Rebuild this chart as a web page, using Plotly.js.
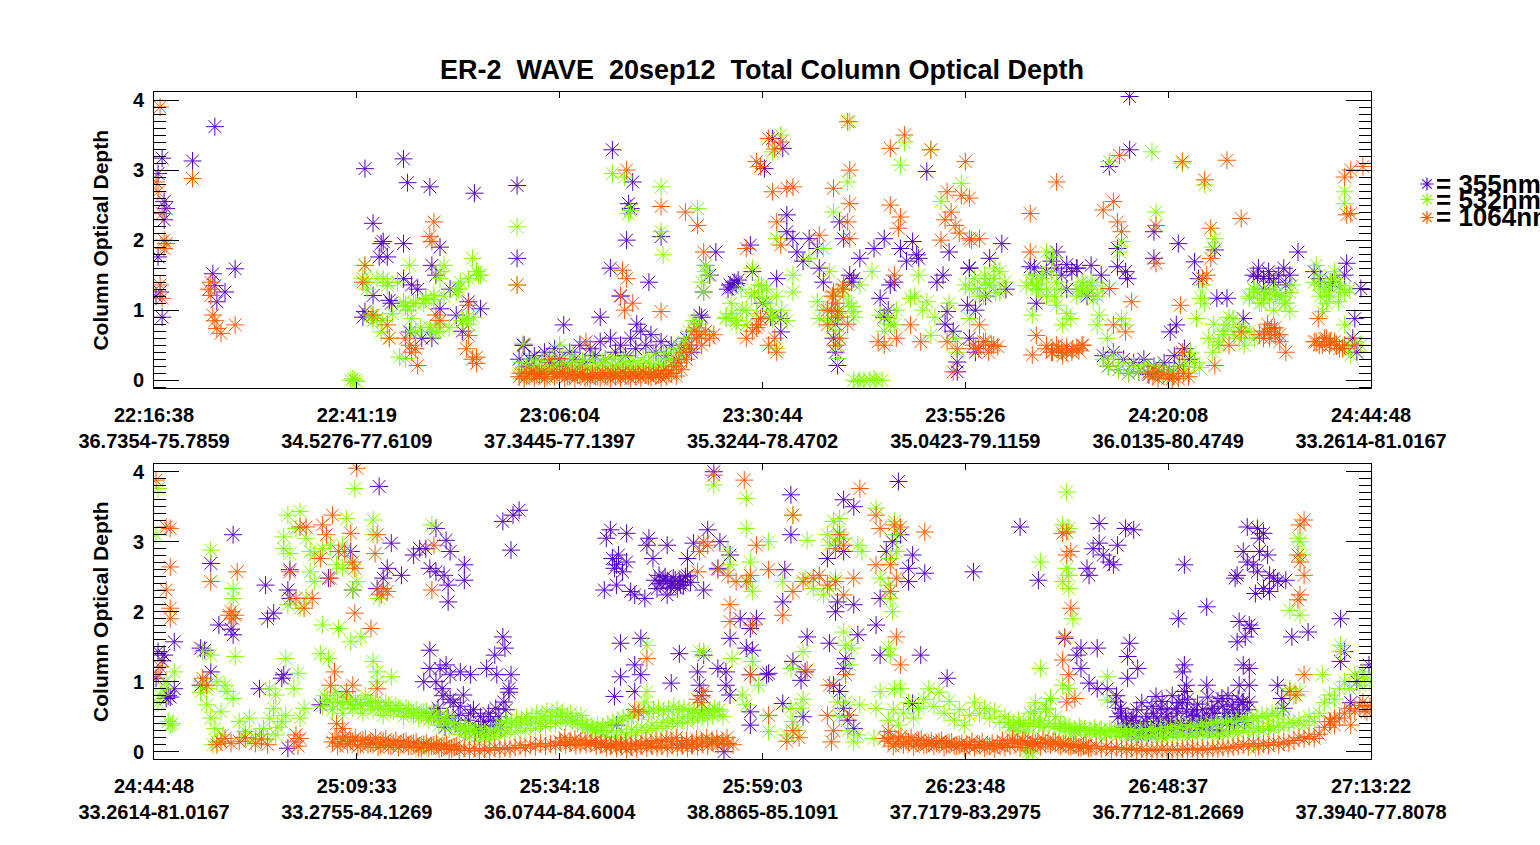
<!DOCTYPE html>
<html>
<head>
<meta charset="utf-8">
<script src="https://cdn.plot.ly/plotly-3.0.1.min.js"></script>
<style>
  html, body { margin: 0; padding: 0; background: #fff; }
  #chart { width: 1540px; height: 845px; }
</style>
</head>
<body>
<div id="chart"></div>
<script>
// Axis labels (time on line 1, lat-lon on line 2)
const TOP_TICKS = ['22:16:38<br>36.7354-75.7859', '22:41:19<br>34.5276-77.6109', '23:06:04<br>37.3445-77.1397',
    '23:30:44<br>35.3244-78.4702', '23:55:26<br>35.0423-79.1159', '24:20:08<br>36.0135-80.4749', '24:44:48<br>33.2614-81.0167'];
const BOT_TICKS = ['24:44:48<br>33.2614-81.0167', '25:09:33<br>33.2755-84.1269', '25:34:18<br>36.0744-84.6004',
    '25:59:03<br>38.8865-85.1091', '26:23:48<br>37.7179-83.2975', '26:48:37<br>36.7712-81.2669', '27:13:22<br>37.3940-77.8078'];
const WAVELENGTHS = ['355nm', '532nm', '1064nm'];

// sampling step (in tick intervals) of the dense runs below
const BAND_DX = 0.025;

// ---------- top panel ----------
const top355 = [[0.02,2.95],[0.04,3.17],[0.05,2.55],[0.05,2.29],[0.02,1.76],[0.03,1.26],[0.04,0.9],[0.01,1.2],[0.06,2.45],
    [0.19,3.13],[0.30,3.62],[0.29,1.52],[0.31,1.12],[0.35,1.26],[0.40,1.59],[0.30,1.35],
    [1.04,3.02],[1.08,2.24],[1.13,1.98],[1.11,1.76],[1.15,1.76],[1.12,1.95],[1.23,1.95],[1.23,3.16],[1.25,2.82],[1.36,2.76],[1.41,1.9],[1.37,1.64],[1.58,2.67],[1.79,2.78],[1.79,1.74],
    [1.04,0.98],[1.03,0.9],[1.08,1.21],[1.16,1.14],[1.17,1.1],[1.23,1.45],[1.27,1.36],[1.32,0.6],[1.37,0.6],[1.41,1.02],[1.49,0.93],[1.55,1.12],[1.61,1.02],[1.26,0.69],[1.3,1.3],[1.39,1.5],[1.46,1.3],[1.52,0.7],
    [1.82,0.5],[1.85,0.3],[2.02,0.79],
    [2.26,3.29],[2.33,2.0],[2.34,2.52],[2.36,2.83],[2.25,1.6],[2.44,1.4],[2.5,2.05],[2.35,2.45],[2.3,1.2],[2.38,0.8],[2.2,0.9],
    [2.69,0.93],[2.71,1.26],[2.72,1.64],[2.77,1.83],[2.74,1.5],
    [2.84,1.36],[2.86,1.4],[2.85,1.33],[2.87,1.38],[2.83,1.3],[2.88,1.43],
    [2.94,1.93],[2.95,1.55],[3.01,3.02],[3.05,3.45],[3.1,3.31],[3.07,1.45],[3.09,0.88],[3.09,0.69],[3.0,1.1],[3.04,0.9],
    [3.12,2.36],[3.12,2.12],[3.15,2.02],[3.17,1.83],[3.23,2.02],[3.27,1.88],[3.28,1.6],[3.30,1.4],[3.2,1.7],
    [3.38,2.26],[3.40,2.02],[3.43,1.5],[3.45,1.45],[3.48,1.74],[3.44,1.4],[3.35,0.6],[3.36,0.4],[3.37,0.21],[3.36,0.8],
    [3.55,1.88],[3.58,1.17],[3.6,2.02],[3.63,1.36],[3.65,1.4],[3.68,1.88],[3.74,1.98],[3.76,1.79],[3.77,1.74],[3.81,2.98],[3.71,1.7],[3.62,1.0],[3.6,0.9],
    [3.86,1.4],[3.89,1.5],[3.91,0.98],[3.92,1.83],[3.96,0.12],[3.96,0.26],[4.02,1.6],[4.01,1.07],[3.94,0.7],[3.9,0.8],
    [4.81,4.05],[4.81,3.29],[4.71,3.05],[4.02,1.6],[4.12,1.74],[4.18,1.95],[4.32,1.62],[4.34,1.6],[4.45,1.83],[4.55,1.6],[4.62,1.64],[4.67,1.5],[4.75,1.88],[4.75,1.62],[4.79,1.55],[4.8,1.45],
    [4.93,2.12],[4.93,1.74],[5.05,1.95],[5.23,1.86],[5.13,1.69],[5.64,1.83],[5.88,1.67],[5.95,1.31],[5.87,1.5],
    [5.44,1.48],[5.5,1.45],[5.6,1.5],[5.58,1.36],[5.47,1.3],
    [5.04,0.79],[5.01,0.69],[5.15,1.45],[5.24,1.17],[5.29,1.17],[5.37,0.88],
    [5.72,1.55],[5.75,1.45],[5.81,1.4],[5.92,0.88],[5.91,0.6],[5.93,0.4],
    [4.05,1.0],[4.1,1.2],[4.2,1.3],[4.35,1.1],[4.5,1.3],[4.6,1.2],[4.02,0.6],[4.05,0.4]];
const top355Runs = [
    [1.80, [0.3,0.5,0.2,0.35,0.15,0.4,0.25,0.45,0.3,0.2,0.4,0.3,0.5,0.25,0.45,0.35,0.55,0.3,0.6,0.4,0.5,0.35,0.6,0.45,0.7,0.5,0.65,0.4,0.55,0.35,0.5,0.3,0.45,0.6,0.4,0.75,0.9]],
    [4.68, [0.35,0.2,0.4,0.15,0.3,0.1,0.25,0.12,0.3,0.08,0.2,0.1,0.25,0.15,0.35,0.2,0.45,0.3]],
    [4.40, [1.55,1.7,1.6,1.5,1.65,1.55,1.6]],
    [5.42, [1.5,1.6,1.45,1.55,1.4,1.5,1.6]]];

const top532 = [[0.99,0.0],[0.98,0.02],[1.0,-0.02],[0.97,0.0],
    [1.04,1.64],[1.03,1.45],[1.07,0.93],[1.1,0.88],[1.13,1.45],[1.15,1.40],[1.12,0.69],[1.16,0.6],[1.08,0.85],[1.05,1.3],
    [1.21,0.33],[1.24,0.31],[1.26,1.64],[1.23,1.12],[1.24,1.07],[1.27,0.88],[1.29,0.69],[1.25,1.0],[1.28,1.1],
    [1.34,1.17],[1.38,1.21],[1.39,0.69],[1.41,1.55],[1.41,1.45],[1.43,1.64],[1.36,0.75],[1.4,0.8],[1.33,1.1],
    [1.49,1.26],[1.51,1.4],[1.54,0.88],[1.57,1.74],[1.59,1.55],[1.61,1.5],[1.52,0.85],[1.55,0.8],[1.5,1.3],
    [1.79,2.19],[1.79,1.36],[1.82,0.52],
    [2.26,2.95],[2.32,2.9],[2.5,2.76],[2.5,2.12],[2.51,1.79],[2.68,2.45],[2.34,2.38],[2.35,2.42],
    [2.72,1.55],[2.72,1.64],[2.71,1.26],[2.7,1.4],[2.73,1.5],
    [2.82,0.88],[2.87,0.79],[2.92,0.79],[2.95,1.6],[2.98,1.36],[3.0,1.17],[3.05,0.88],[3.07,0.45],[3.09,3.5],[3.05,3.26],[2.85,0.95],[2.9,1.0],[2.96,1.25],[3.02,1.3],[3.04,1.0],
    [3.07,2.02],[3.15,1.5],[3.15,1.26],[3.23,1.74],[3.27,1.12],[3.28,0.88],[3.3,1.88],[3.35,2.4],[3.42,2.83],[3.43,3.69],
    [3.33,1.55],[3.37,0.5],[3.37,0.31],[3.38,0.98],[3.45,0.98],[3.48,1.36],[3.36,0.7],[3.44,1.05],[3.4,1.2],
    [3.45,0.0],[3.48,0.0],[3.5,0.0],[3.53,0.0],[3.56,0.0],[3.59,0.0],[3.47,-0.02],[3.55,0.02],
    [3.54,1.55],[3.58,0.93],[3.62,0.88],[3.65,0.79],[3.68,3.07],[3.7,3.4],[3.73,1.17],[3.77,1.5],[3.81,1.12],[3.83,0.64],[3.83,3.29],[3.88,2.55],[3.96,0.4],[3.98,2.81],[4.0,1.36],[4.02,0.88],
    [3.6,0.7],[3.63,0.8],[3.66,1.0],[3.75,1.2],[3.79,1.0],[3.85,0.9],[3.92,1.1],[3.95,0.6],
    [4.92,3.26],[4.71,3.12],[5.07,3.1],[5.18,2.79],[5.23,2.02],[5.87,2.69],[5.87,2.52],[4.94,2.4],[4.77,1.98],[4.76,1.83],[5.22,1.9],
    [4.06,1.31],[4.12,1.36],[4.14,1.45],[4.17,1.55],[4.09,1.2],[4.1,1.4],[4.15,1.25],
    [4.35,1.36],[4.33,1.4],[4.38,1.5],[4.4,1.83],[4.43,1.76],[4.45,1.07],[4.33,0.93],[4.48,0.79],[4.52,0.88],[4.36,1.3],[4.4,1.3],[4.44,1.2],[4.5,0.95],
    [4.58,1.36],[4.57,1.26],[4.62,1.4],[4.65,0.79],[4.66,0.93],[4.6,1.3],[4.55,1.2],[4.63,1.15],
    [4.77,0.88],[4.79,0.79],[4.7,0.6],
    [5.14,0.88],[5.16,1.17],[5.17,1.36],[5.18,1.1],[5.11,0.4],
    [5.22,0.4],[5.25,0.5],[5.29,0.79],[5.32,0.88],[5.35,0.6],[5.38,0.69],[5.4,1.17],[5.44,1.26],[5.47,1.17],[5.5,1.26],[5.53,1.22],[5.6,0.98],[5.61,1.36],[5.42,1.3],[5.46,1.1],[5.52,1.0],[5.56,1.2],[5.58,1.1],[5.27,0.65],
    [5.73,1.64],[5.74,1.36],[5.76,0.98],[5.79,1.26],[5.82,1.55],[5.84,1.12],[5.87,0.79],[5.89,0.5],[5.9,0.36],[5.92,0.55],[5.75,1.2],[5.8,1.4],[5.85,1.3],[5.78,1.1],[5.95,0.5]];
const top532Runs = [
    [1.80, [0.1,0.05,0.15,0.08,0.12,0.05,0.2,0.1,0.5,0.15,0.25,0.12,0.2,0.1,0.18,0.08,0.15,0.3,0.12,0.2,0.1,0.25,0.15,0.12,0.2,0.1,0.18,0.12,0.22,0.15,0.3,0.2,0.35,0.5,0.6,0.75,0.65]],
    [1.8125, [0.25,0.18,0.3,0.2,0.28,0.15,0.32,0.22,0.3,0.18,0.35,0.2,0.28,0.16,0.3,0.2,0.26,0.14,0.3,0.22,0.34,0.18,0.28,0.2,0.32,0.24,0.36,0.2,0.4,0.3,0.45,0.4,0.55,0.7,0.85,0.8]],
    [4.68, [0.3,0.2,0.35,0.15,0.25,0.1,0.2,0.12,0.22,0.15,0.1,0.2,0.08,0.15,0.05,0.12,0.2,0.1,0.25,0.18]],
    [1.05, [1.4,0.9,1.45,0.85,1.35,0.95,1.4]],
    [1.24, [1.05,0.7,1.1,0.75,1.15,0.7]],
    [1.38, [1.15,0.7,1.2,0.75]],
    [1.50, [1.3,0.85,1.45,0.9,1.5]],
    [2.82, [0.9,1.1,0.85,1.3,1.0,1.2,0.95,1.35,1.1,0.9,1.2,1.0,0.85]],
    [3.30, [1.0,0.85,1.2,0.95,1.3,1.1,0.9]],
    [4.02, [1.3,1.45,1.2,1.5,1.35,1.6,1.25,1.4]],
    [4.30, [1.35,1.5,1.3,1.45,1.2,1.55,1.4,1.3]],
    [4.55, [1.3,1.4,1.25,1.35,1.2,1.3]],
    [5.20, [0.6,0.8,0.55,0.7,0.9,0.65,0.75,0.5,0.7,0.6]],
    [5.40, [1.2,1.3,1.1,1.25,1.15,1.3,1.2,1.1,1.25]],
    [5.72, [1.4,1.5,1.3,1.2,1.45,1.35,1.25,1.3]]];

const top1064 = [[0.03,3.9],[0.01,2.83],[0.02,2.69],[0.04,2.38],[0.05,2.0],[0.05,1.88],[0.03,1.36],[0.04,1.17],[0.06,1.95],
    [0.19,2.88],[0.28,1.4],[0.28,1.21],[0.29,0.93],[0.31,0.74],[0.33,0.67],[0.40,0.79],[0.27,1.3],[0.3,0.85],
    [1.04,1.64],[1.03,1.4],[1.08,0.93],[1.15,0.79],[1.16,0.6],[1.26,0.5],[1.27,0.4],[1.3,0.21],[1.24,0.6],[1.29,0.45],
    [1.36,2.05],[1.38,2.26],[1.37,1.98],[1.39,0.93],[1.41,0.85],[1.55,1.07],[1.55,0.64],[1.54,0.45],[1.59,0.33],[1.59,0.24],[1.57,0.3],
    [1.79,1.36],[2.0,0.31],
    [2.13,0.55],[2.33,3.0],[2.33,1.45],[2.31,1.57],[2.3,1.21],[2.5,2.48],[2.62,2.4],[2.68,2.21],[2.5,0.98],[2.32,1.0],[2.36,1.1],
    [2.71,1.83],[2.74,0.6],[2.76,0.65],[2.72,0.7],
    [2.92,1.88],[2.92,0.6],[2.98,0.79],[2.99,0.88],[2.95,0.7],[2.97,0.75],
    [2.97,3.12],[2.99,3.05],[3.03,3.45],[3.09,3.4],[3.06,3.3],
    [3.05,2.69],[3.12,2.74],[3.15,2.76],[3.07,2.26],[3.09,1.93],[3.03,0.5],[3.07,0.4],[3.06,0.6],
    [3.28,2.07],[3.35,2.74],[3.42,3.69],[3.43,3.0],[3.43,2.52],[3.42,2.26],[3.43,2.02],[3.35,1.26],[3.37,0.98],[3.32,0.79],[3.4,1.36],[3.36,1.1],[3.34,1.0],[3.38,0.6],[3.36,0.5],
    [3.63,3.31],[3.63,2.5],[3.7,3.5],[3.68,2.33],[3.67,2.17],[3.65,1.5],[3.57,0.55],[3.66,0.6],[3.73,0.79],[3.78,0.55],[3.6,0.5],
    [3.83,3.29],[3.91,2.69],[3.9,2.29],[3.98,2.64],[4.0,3.12],[3.95,2.21],[3.88,2.0],[4.02,2.02],[3.91,0.55],[3.94,0.12],[3.96,0.45],[3.97,2.1],[3.93,2.4],
    [4.02,2.6],[4.45,2.83],[4.32,2.38],[4.76,3.21],[4.73,2.55],[4.68,2.43],[4.75,2.26],[4.77,2.12],[4.94,2.21],[4.94,1.67],[5.07,3.12],[5.29,3.14],[5.18,2.86],[5.21,2.17],[5.21,1.74],[5.36,2.31],[5.87,2.9],[5.9,3.0],[5.96,3.05],[5.88,2.36],[5.9,2.38],
    [4.07,2.02],[4.03,2.0],
    [4.07,0.79],[4.05,0.45],[4.13,0.5],[4.16,0.48],[4.1,0.55],[4.32,1.83],[4.35,0.64],[4.33,0.36],[4.43,0.4],[4.46,0.45],[4.5,0.4],[4.53,0.45],[4.56,0.42],[4.58,0.5],[4.48,0.35],[4.4,0.5],
    [4.71,1.31],[4.73,0.79],[4.79,0.69],[4.82,1.12],[4.94,0.12],[5.02,0.02],[5.06,1.07],[5.07,0.4],[5.17,1.45],[5.19,1.5],[5.23,0.21],[5.3,0.5],[5.36,0.69],
    [5.47,0.6],[5.5,0.69],[5.51,0.74],[5.53,0.65],[5.55,0.55],[5.58,0.4],[5.49,0.8],
    [5.73,0.55],[5.76,0.5],[5.8,0.55],[5.74,0.88],[5.78,0.6],[5.83,0.5],[5.86,0.45],[5.92,0.5]];
const top1064Runs = [
    [1.80, [0.05,0.02,0.1,0.03,0.08,0.02,0.3,0.05,0.1,0.03,0.06,0.02,0.08,0.04,0.02,0.06,0.03,0.08,0.02,0.05,0.03,0.07,0.02,0.05,0.03,0.08,0.04,0.06,0.03,0.05,0.1,0.06,0.15,0.3,0.45,0.6,0.5]],
    [1.8125, [0.1,0.06,0.12,0.08,0.1,0.05,0.12,0.08,0.1,0.06,0.12,0.07,0.1,0.05,0.09,0.06,0.11,0.05,0.1,0.07,0.12,0.06,0.1,0.08,0.12,0.06,0.1,0.08,0.14,0.1,0.2,0.25,0.4,0.5,0.7,0.65]],
    [4.90, [0.1,0.05,0.02,0.08,0.03,0.06,0.02,0.1,0.05]],
    [3.32, [1.0,1.2,0.9,1.3,0.8]],
    [4.04, [0.5,0.45,0.55,0.4,0.5]],
    [4.40, [0.45,0.4,0.5,0.42,0.48,0.4,0.45,0.5]],
    [5.45, [0.65,0.7,0.6,0.75,0.65]],
    [5.72, [0.55,0.5,0.6,0.5,0.55,0.45,0.5]]];

// ---------- bottom panel ----------
const bot355 = [[0.02,1.43],[0.05,1.38],[0.06,0.76],[0.08,0.78],[0.1,0.9],[0.1,1.57],[0.01,1.05],[0.07,0.8],[0.04,1.3],
    [0.23,1.48],[0.25,1.45],[0.28,1.14],[0.23,0.95],
    [0.28,2.69],[0.32,1.81],[0.39,3.1],[0.39,1.67],[0.38,1.75],
    [0.55,2.38],[0.56,1.9],[0.59,1.98],[0.66,2.31],[0.67,2.19],[0.67,2.6],[0.64,1.1],[0.63,1.05],[0.52,0.9],[0.66,0.05],
    [0.82,0.67],[0.86,2.48],[0.97,2.86],[0.98,2.31],
    [1.11,3.79],[1.17,2.98],[1.13,2.48],[1.1,2.33],[1.15,2.62],[1.22,2.52],
    [1.28,2.81],[1.31,2.9],[1.34,2.9],[1.39,3.19],[1.36,2.62],[1.39,2.57],[1.44,3.02],[1.43,2.52],[1.46,2.86],[1.45,2.38],[1.45,2.14],[1.53,2.67],[1.53,2.45],
    [1.72,3.29],[1.77,3.38],[1.8,3.45],[1.76,2.88],
    [1.36,1.45],[1.36,1.19],[1.41,1.19],[1.44,1.24],[1.39,1.0],[1.42,0.9],[1.46,1.1],[1.51,1.14],[1.56,1.1],[1.64,1.19],[1.68,1.38],[1.72,1.64],[1.73,1.48],[1.69,1.1],[1.76,1.1],[1.33,1.0],[1.38,0.55],[1.75,0.85],
    [2.25,3.17],[2.23,3.05],[2.33,3.12],[2.44,3.05],[2.43,2.95],[2.53,2.95],[2.46,2.76],
    [2.26,2.76],[2.29,2.81],[2.28,2.67],[2.31,2.57],[2.33,2.71],[2.27,2.62],
    [2.22,2.31],[2.28,2.38],[2.35,2.29],[2.37,2.24],[2.42,2.19],
    [2.49,2.52],[2.53,2.43],[2.56,2.48],[2.59,2.43],[2.63,2.52],[2.58,2.33],[2.53,2.24],[2.48,2.33],[2.55,2.4],[2.61,2.38],[2.51,2.45],[2.63,2.76],[2.66,2.98],[2.71,2.31],[2.73,3.17],[2.78,2.62],[2.79,3.0],[2.76,4.0],[2.84,2.81],
    [2.89,1.9],[2.97,1.9],[2.94,1.76],[2.84,1.62],[2.92,1.48],[2.95,1.45],[2.94,1.1],[3.03,1.12],[3.02,1.1],
    [3.14,3.67],[3.14,3.1],[3.11,2.6],[3.1,2.14],
    [2.3,1.55],[2.4,1.62],[2.3,1.07],[2.37,1.24],[2.4,1.1],[2.27,0.79],[2.37,0.86],[2.59,1.4],[2.55,0.98],[2.68,1.14],[2.71,1.38],[2.78,1.19],[2.82,1.14],[2.82,0.95],[2.84,0.81],[2.69,0.95],[2.28,0.38],[2.94,0.38],[2.94,0.57],[2.81,0.0],[2.7,0.8],
    [3.22,1.64],[3.33,1.55],[3.15,1.29],[3.19,1.02],[3.21,1.14],
    [3.4,3.6],[3.45,3.5],[3.4,2.86],[3.32,2.76],[3.36,2.0],[3.37,2.14],[3.45,2.1],[3.47,1.67],[3.41,1.33],[3.4,1.19],[3.35,0.95],[3.38,0.86],
    [3.67,3.86],[3.56,1.81],[3.58,1.38],[3.78,1.38],[3.64,3.0],[3.61,2.86],[3.68,3.1],[3.74,2.81],[3.72,2.62],[3.72,2.43],[3.8,2.55],[4.04,2.57],[3.58,2.19],
    [3.74,0.69],[3.91,1.05],[3.1,0.69],[3.4,0.62],[3.45,0.33],[3.2,0.5],[3.42,0.45],
    [4.27,3.21],[4.66,3.26],[4.79,3.19],[4.83,3.17],
    [4.36,2.45],[4.61,2.52],[4.6,2.62],[4.63,2.9],[4.66,2.98],[4.68,2.81],[4.71,2.71],[4.73,2.67],[4.75,2.95],
    [5.08,2.67],[5.19,2.07],[5.05,1.9],
    [4.49,1.62],[4.57,1.48],[4.65,1.48],[4.55,1.38],[4.57,1.19],[4.81,1.55],[4.8,1.36],[4.85,1.19],[4.8,1.05],[4.61,0.98],[4.65,0.9],[4.7,0.9],
    [5.08,1.24],[5.07,1.14],[5.09,0.95],[5.08,0.86],[5.19,0.95],[4.94,0.79],
    [5.34,2.52],[5.37,2.86],[5.39,3.21],[5.44,3.19],[5.45,3.05],[5.47,3.12],[5.39,2.71],[5.42,2.67],[5.45,2.86],[5.49,2.81],[5.44,2.57],[5.5,2.52],[5.54,2.43],[5.58,2.45],[5.52,2.48],[5.43,2.26],[5.47,2.33],[5.5,2.29],[5.33,2.48],
    [5.35,1.86],[5.4,1.81],[5.41,1.76],[5.38,1.64],[5.34,1.57],[5.37,1.24],[5.4,1.19],[5.35,0.95],[5.4,0.95],[5.4,0.71],[5.54,0.95],[5.56,0.76],[5.57,0.62],
    [5.61,1.64],[5.69,1.71],[5.85,1.9],[5.85,1.29],[5.87,1.43],[5.99,1.24],[5.93,1.0],[5.9,0.7]];
const bot355Runs = [
    [1.40, [0.62,0.8,0.48,0.7,0.52,0.81,0.45,0.6,0.33,0.43,0.55,0.38,0.5,0.71,0.9]],
    [1.41, [0.5,0.35,0.75,0.4,0.65,0.3,0.55,0.28,0.5,0.3,0.45,0.62,0.35,0.6]],
    [2.47, [2.45,2.4,2.5,2.35,2.45,2.38,2.5,2.42]],
    [4.74, [0.71,0.62,0.48,0.33,0.4,0.29,0.43,0.3,0.38,0.62,0.5,0.45,0.62,0.4,0.57,0.45,0.52,0.35,0.48,0.62,0.4,0.76,0.55,0.67,0.5,0.71,0.6]],
    [4.7525, [0.5,0.35,0.28,0.5,0.25,0.35,0.27,0.55,0.33,0.3,0.42,0.32,0.7,0.36,0.3,0.6,0.38,0.45,0.32,0.55,0.3,0.5,0.38,0.45,0.55,0.42]],
    [4.745, [0.8,0.55,0.4,0.45,0.6,0.7,0.5,0.65,0.48,0.72,0.6,0.8,0.55,0.7,0.75,0.5,0.68,0.6,0.78,0.55,0.72,0.65,0.8,0.6,0.75,0.7]]];

const bot532 = [[0.02,3.76],[0.01,3.1],[0.08,0.38],[0.07,0.43],[0.09,0.4],[0.03,0.81],[0.05,0.9],[0.1,1.14],[0.06,1.0],[0.02,0.7],
    [0.28,2.88],[0.28,1.38],[0.24,1.43],[0.24,1.0],[0.26,0.9],[0.23,0.85],[0.31,1.0],[0.26,0.67],
    [0.28,0.48],[0.3,0.33],[0.31,0.14],[0.34,0.24],[0.33,0.57],[0.29,0.1],
    [0.35,0.95],[0.36,0.86],[0.39,0.76],[0.39,2.33],[0.39,2.19],[0.4,1.36],
    [0.42,0.43],[0.45,0.29],[0.47,0.48],[0.5,0.19],[0.54,0.33],[0.57,0.48],[0.59,0.62],[0.6,0.24],[0.63,0.43],[0.65,0.52],[0.44,0.2],[0.48,0.15],[0.52,0.25],[0.56,0.18],[0.61,0.35],
    [0.57,0.9],[0.6,0.81],[0.65,1.33],[0.71,1.12],[0.69,0.9],[0.72,0.48],[0.74,0.62],[0.66,3.38],[0.72,3.43],[0.64,3.07],[0.67,2.83],[0.66,2.1],[0.64,2.9],
    [0.7,3.19],[0.75,3.05],[0.77,2.86],[0.77,2.57],[0.79,2.43],[0.79,2.81],[0.83,2.9],[0.87,2.95],[0.93,2.95],[0.95,3.33],[0.9,2.67],[0.93,2.62],[0.98,2.67],[1.0,2.43],[0.99,3.76],[1.08,3.31],[1.08,3.1],[0.98,2.31],[1.11,2.19],[0.75,2.2],[0.72,2.05],
    [0.83,1.81],[0.91,1.76],[0.97,1.57],[1.02,1.64],[0.82,1.4],[0.86,1.33],[1.08,1.29],[1.1,1.14],[1.1,1.0],[1.17,1.07],[1.37,3.24],[1.33,0.1],[1.4,0.1],[1.32,0.02],
    [2.76,3.81],[2.92,3.62],[2.92,3.19],[3.03,3.0],[3.22,3.02],[3.15,3.38],[3.35,3.29],[3.38,3.33],[3.37,3.14],[3.32,3.1],[3.33,2.95],[3.36,3.0],[3.4,3.05],
    [2.83,2.86],[2.84,2.67],[2.94,2.71],[2.95,2.29],[2.93,2.43],[3.1,2.43],[3.21,2.48],[3.25,2.33],[3.3,2.24],[3.33,2.33],[3.36,2.48],[3.47,2.95],[3.49,2.86],
    [3.56,3.48],[3.65,3.29],[3.66,3.1],[3.63,2.76],[3.66,2.86],[3.58,2.48],[3.62,2.38],[3.63,2.19],[3.64,2.0],
    [2.43,1.52],[2.71,1.43],[2.69,1.43],[2.85,1.33],[2.95,1.29],[2.98,0.95],[2.9,0.81],[2.92,0.67],[2.43,0.86],[2.42,0.71],
    [3.2,1.43],[3.14,1.19],[3.4,1.71],[3.41,1.52],[3.44,1.48],[3.43,1.24],[3.37,0.71],[3.41,0.71],[3.48,0.67],[3.56,0.62],[3.58,0.86],[3.65,0.9],[3.68,0.9],[3.63,1.38],[3.62,1.48],
    [3.14,0.62],[3.15,0.43],[3.19,0.62],[3.12,0.24],[3.45,0.14],[3.47,0.24],[3.03,0.29],[3.55,0.19],[3.38,0.5],[3.42,0.3],[3.17,0.3],[3.2,0.75],
    [4.5,3.71],[4.48,3.24],[4.51,3.19],[4.37,2.71],[4.5,2.62],[4.51,2.52],[4.48,2.43],[4.51,2.33],[4.53,1.9],[5.6,2.02],[5.65,1.95],[5.66,2.81],[5.65,3.0],[5.64,3.05],
    [4.37,1.19],[4.7,1.07],[4.7,0.74],[4.48,0.95],[4.51,0.9],[4.34,0.57],[4.4,0.62],
    [5.85,1.52],[5.85,1.43],[5.76,1.1],[5.96,1.14],[5.65,0.86],[5.6,0.9],[5.62,0.8],
    [4.31,0.0],[4.3,0.02],[4.33,-0.02],[5.43,0.05]];
const bot532Runs = [
    [0.83, [0.65,0.75,0.6,0.7,0.55,0.72,0.62,0.68,0.55,0.7,0.6,0.65,0.52,0.66,0.58,0.62,0.5,0.6,0.55,
            0.48,0.56,0.45,0.5,0.38,0.46,0.32,0.4,
            0.25,0.33,0.2,0.28,0.15,0.25,0.18,0.22,0.3,
            0.25,0.35,0.28,0.38,0.3,0.4,0.33,0.42,0.36,0.45,0.4,
            0.5,0.42,0.55,0.45,0.52,0.4,0.35,0.3,0.28,
            0.22,0.3,0.2,0.28,0.24,0.32,0.27,0.35,0.3,
            0.38,0.33,0.42,0.36,0.45,0.4,0.48,0.42,0.5,0.45,0.55,0.48,0.52,0.58,0.5]],
    [0.8425, [0.8,0.72,0.85,0.7,0.78,0.68,0.75,0.66,0.8,0.7,0.72,0.62,0.7,0.6,0.66,0.58,0.62,0.55,0.6,0.52,0.58,0.5,0.55,0.45,0.5,0.42]],
    [1.5125, [0.35,0.3,0.38,0.28,0.33,0.25,0.3,0.35,0.4,0.45,0.42,0.48,0.45,0.5,0.48,0.55,0.5,0.58,0.52,0.6,0.55,0.5,0.45,0.4,0.38,0.35,
              0.32,0.38,0.35,0.4,0.42,0.45,0.48,0.5,0.52,0.55,0.58,0.55,0.6,0.62,0.58,0.6,0.65,0.6,0.62,0.58,0.6,0.55,0.6,0.58,0.62,0.6]],
    [3.62, [0.45,0.6,0.38,0.55,0.7,0.48,0.62,0.75,0.9,
            0.65,0.85,0.55,0.72,0.45,0.6,0.38,0.52,
            0.7,0.55,0.62,0.48,0.58,0.42,0.5,
            0.35,0.3,0.38,0.28,0.55,0.7,0.45,0.6,0.76,0.5,0.4,0.33,0.3,
            0.28,0.33,0.24,0.3,0.26,0.32,0.24,0.3,0.22,0.28,
            0.2,0.25,0.18,0.22,0.2,0.24,0.18,0.22,0.2,0.25,
            0.22,0.26,0.2,0.25,0.22,0.28,0.24,0.26,0.22,0.28,0.25,0.3,0.27,
            0.3,0.35,0.28,0.33,0.3,0.36,0.32,0.38,0.35,0.42,
            0.4,0.45,0.38,0.5,0.43,0.55,
            0.7,0.81,0.75,0.9,
            1.0,0.9,1.1,0.95,1.05,1.0]],
    [4.2125, [0.42,0.38,0.45,0.4,0.36,0.42,0.38,0.35,0.4,0.36,0.33,0.38,0.35,0.3,0.36,0.32,0.3,0.34,0.3,0.28,0.32,0.3,0.28,0.33,0.3,0.28,0.32,0.3,
              0.33,0.3,0.35,0.32,0.36,0.33,0.38,0.35,0.38,0.36,0.4,0.38,0.42,0.4,0.44,0.42,0.45,0.43,0.48,0.45,0.5,0.48,0.52,0.5,0.55,0.52,0.58]]];

const bot1064 = [[0.01,3.88],[0.06,3.21],[0.08,3.19],[0.08,2.64],[0.06,2.31],[0.08,2.05],[0.08,1.9],[0.03,1.21],[0.02,1.1],
    [0.28,2.43],[0.41,2.57],[0.38,2.0],[0.39,1.9],[0.4,1.95],[0.37,1.95],
    [0.24,1.05],[0.26,0.95],[0.33,0.14],[0.35,0.19],[0.31,0.1],[0.38,0.12],[0.42,0.15],[0.45,0.2],[0.5,0.12],[0.53,0.18],[0.56,0.1],
    [0.67,2.57],[0.7,2.19],[0.74,2.05],[0.78,2.19],[0.72,3.21],[0.75,3.21],[0.83,3.24],[0.88,3.38],[0.85,3.1],[0.91,2.86],[0.94,2.86],[0.97,3.12],[0.98,2.71],[0.99,2.62],[0.99,1.98],[1.0,4.05],[1.07,1.76],[1.1,3.1],[1.09,2.83],[1.13,2.33],[1.15,2.29],[1.12,2.24],[1.37,2.31],[1.38,2.95],[0.87,2.48],[0.82,2.76],
    [0.69,0.14],[0.7,0.24],[0.72,0.19],[0.71,0.08],
    [0.89,1.14],[0.87,0.95],[0.98,0.95],[0.95,0.86],[0.9,0.4],[0.93,0.33],[1.1,0.9],
    [2.76,3.95],[2.91,3.88],[3.15,3.38],[3.48,3.76],[3.8,3.14],
    [2.71,3.0],[2.69,2.86],[2.73,2.95],
    [2.83,2.52],[2.84,2.1],[2.84,1.86],[2.95,1.81],[2.97,2.95],[2.92,2.43],
    [2.68,2.57],[2.78,2.6],[2.87,2.43],[2.94,2.52],
    [3.03,2.6],[3.1,1.95],[3.15,2.29],[3.2,2.43],[3.25,2.48],[3.28,2.52],[3.32,2.38],[3.36,2.43],[3.4,2.24],[3.45,2.48],[3.36,2.9],[3.4,2.95],[3.38,3.1],
    [3.56,3.38],[3.58,3.19],[3.65,3.24],[3.68,3.21],[3.63,2.67],[3.66,2.48],[3.63,2.29],[3.56,2.67],[3.66,1.64],[3.68,1.24],
    [2.43,1.33],[2.94,1.1],[2.71,0.86],[2.39,0.57],[2.37,0.6],[3.03,0.52],[3.22,1.17],[3.33,0.95],[3.41,1.1],[3.32,0.52],[3.34,0.14],[3.43,0.52],[3.35,0.3],[3.15,0.3],[3.18,0.2],[3.12,0.15],
    [3.62,0.29],[3.6,0.19],[2.7,0.7],[2.68,0.75],
    [4.5,3.14],[4.48,3.12],[4.52,2.86],[4.5,2.81],[5.67,3.31],[5.65,3.24],[5.64,2.81],[5.65,2.71],[5.67,2.52],[5.65,2.24],[5.64,2.17],
    [4.49,1.64],[4.48,1.31],[4.51,1.1],[4.52,2.05],[4.54,0.76],[4.5,0.71],
    [5.67,1.1],[5.6,0.86],[5.63,0.81],
    [5.8,0.43],[5.82,0.48],[5.9,0.38],[5.96,0.71],[5.98,0.57]];
const bot1064Runs = [
    [0.88, [0.14,0.08,0.18,0.1,0.15,0.07,0.16,0.1,0.13,0.06,0.15,0.09,0.12,0.06,0.14,0.08,0.12,0.05,0.1,
            0.06,0.1,0.04,0.08,0.03,0.07,0.02,0.05,
            0.02,0.05,0.01,0.04,0.02,0.06,0.03,0.05,0.04,
            0.06,0.09,0.05,0.1,0.07,0.12,0.08,0.11,0.09,0.13,0.1,
            0.14,0.09,0.16,0.1,0.13,0.08,0.12,0.06,0.1,
            0.05,0.08,0.03,0.07,0.04,0.09,0.05,0.08,0.06,
            0.08,0.05,0.1,0.06,0.09,0.05,0.1,0.07,0.12,0.08,0.14,0.1,0.15,0.12,0.1]],
    [0.8925, [0.2,0.12,0.22,0.15,0.2,0.1,0.18,0.12,0.2,0.1,0.18,0.08,0.16,0.1,0.15,0.08,0.14,0.06,0.12,0.08,0.12,0.05,0.1,0.04,0.08]],
    [2.00, [0.15,0.2,0.12,0.18,0.1,0.16,0.12,0.15,0.1,0.12,0.08,0.12,0.1,0.14,0.08,0.12,0.1,0.15,0.12,0.16,0.14,0.18,0.15,0.2,0.12,0.16,0.1,0.18,0.14,0.2,0.15,0.18,0.12,0.2]],
    [3.62, [0.15,0.08,0.18,0.1,0.14,0.07,0.16,0.09,0.12,
            0.08,0.14,0.06,0.12,0.08,0.1,0.05,0.09,
            0.06,0.1,0.05,0.08,0.04,0.09,0.06,
            0.08,0.12,0.06,0.14,0.09,0.13,0.07,0.12,0.1,0.14,0.08,0.11,0.07,
            0.1,0.06,0.09,0.05,0.08,0.04,0.07,0.03,0.06,0.04,
            0.03,0.05,0.02,0.04,0.01,0.03,0.02,0.04,0.02,0.03,
            0.02,0.04,0.03,0.05,0.02,0.04,0.03,0.05,0.04,0.06,0.05,0.07,0.08,
            0.1,0.07,0.12,0.08,0.11,0.09,0.13,0.1,0.14,0.12,
            0.16,0.2,0.18,0.22,0.19,0.25,
            0.35,0.43,0.38,0.48,
            0.55,0.62,0.58,0.66,0.6,0.65]],
    [3.6325, [0.2,0.12,0.22,0.15,0.2,0.12,0.18,0.1,0.15,0.12,0.16,0.1,0.14,0.08,0.12,0.1,0.15,0.1,0.14,0.08,0.12,0.1,0.16,0.12,0.18,0.14,0.16,0.1,0.14,0.12,0.18,0.12,0.15,0.1,0.12,0.08,0.1,0.06,0.08,0.05]]];

const COLORS = ['#5500c8', '#80ff00', '#ff5a00'];
const FONT = 'Liberation Sans, Arial, Helvetica, sans-serif';

function collect(points, runs) {
    const x = [], y = [];
    points.forEach(p => { x.push(p[0]); y.push(p[1]); });
    runs.forEach(([x0, ys]) => {
        ys.forEach((v, i) => { x.push(x0 + i * BAND_DX); y.push(v); });
    });
    return { x, y };
}

function starTrace(d, color, xa, ya) {
    return {
        x: d.x, y: d.y, xaxis: xa, yaxis: ya,
        type: 'scatter', mode: 'markers', hoverinfo: 'skip',
        marker: { symbol: 'asterisk-open', size: 15, color: color, line: { color: color, width: 1 } }
    };
}

const traces = [
    starTrace(collect(top355, top355Runs), COLORS[0], 'x', 'y'),
    starTrace(collect(top532, top532Runs), COLORS[1], 'x', 'y'),
    starTrace(collect(top1064, top1064Runs), COLORS[2], 'x', 'y'),
    starTrace(collect(bot355, bot355Runs), COLORS[0], 'x2', 'y2'),
    starTrace(collect(bot532, bot532Runs), COLORS[1], 'x2', 'y2'),
    starTrace(collect(bot1064, bot1064Runs), COLORS[2], 'x2', 'y2')
];

// key symbols of the hand-drawn legend, on a pixel overlay
const KEY_Y = [184, 199.5, 217.5];
traces.push({
    x: [1427, 1427, 1427], y: KEY_Y, xaxis: 'x3', yaxis: 'y3',
    type: 'scatter', mode: 'markers', hoverinfo: 'skip',
    marker: { symbol: 'asterisk-open', size: 11, color: COLORS, line: { color: COLORS, width: 1.2 } }
});

function xAxis(ticks, anchor, domain) {
    return {
        domain: domain, anchor: anchor, range: [0, 6],
        tickmode: 'array', tickvals: [0, 1, 2, 3, 4, 5, 6], ticktext: ticks,
        ticks: 'inside', ticklen: 6, tickcolor: '#000', tickwidth: 1,
        showline: true, linecolor: '#000', linewidth: 1, mirror: 'ticks',
        showgrid: false, zeroline: false, fixedrange: true,
        ticklabelstandoff: 9,
        tickfont: { family: FONT, size: 20, color: '#000', weight: 'bold' }
    };
}

function yAxis(anchor, domain, range) {
    return {
        domain: domain, anchor: anchor, range: range,
        tickmode: 'linear', tick0: 0, dtick: 1,
        ticks: 'inside', ticklen: 25, tickcolor: '#000', tickwidth: 1,
        minor: { dtick: 0.1, tick0: 0, ticks: 'inside', ticklen: 12, tickcolor: '#000', tickwidth: 1, showgrid: false },
        showline: true, linecolor: '#000', linewidth: 1, mirror: 'ticks',
        showgrid: false, zeroline: false, fixedrange: true,
        ticklabelstandoff: 5,
        tickfont: { family: FONT, size: 20, color: '#000', weight: 'bold' },
        title: { text: 'Column Optical Depth', standoff: 18,
                 font: { family: FONT, size: 21, color: '#000', weight: 'bold' } }
    };
}

const legendAnn = WAVELENGTHS.map((w, i) => ({
    xref: 'paper', yref: 'paper', x: 1434 / 1540, y: 1 - KEY_Y[i] / 845,
    xanchor: 'left', yanchor: 'middle', showarrow: false,
    text: '= ' + w,
    font: { family: FONT, size: 26, color: '#000', weight: 'bold' }
}));

const layout = {
    width: 1540, height: 845,
    margin: { l: 0, r: 0, t: 0, b: 0 },
    paper_bgcolor: '#fff', plot_bgcolor: 'rgba(0,0,0,0)',
    showlegend: false,
    title: {
        text: 'ER-2\u00a0\u00a0WAVE\u00a0\u00a020sep12\u00a0\u00a0Total Column Optical Depth',
        x: 762 / 1540, xanchor: 'center', y: 1 - 70 / 845, yanchor: 'middle',
        font: { family: FONT, size: 27, color: '#000', weight: 'bold' }
    },
    xaxis: xAxis(TOP_TICKS, 'y', [154 / 1540, 1371 / 1540]),
    yaxis: yAxis('x', [1 - 388.3 / 845, 1 - 92.3 / 845], [-0.115, 4.11]),
    xaxis2: xAxis(BOT_TICKS, 'y2', [154 / 1540, 1371 / 1540]),
    yaxis2: yAxis('x2', [1 - 759 / 845, 1 - 464.3 / 845], [-0.104, 4.106]),
    xaxis3: { domain: [0, 1], anchor: 'y3', range: [0, 1540], visible: false, fixedrange: true },
    yaxis3: { domain: [0, 1], anchor: 'x3', range: [845, 0], visible: false, fixedrange: true },
    annotations: legendAnn
};

Plotly.newPlot('chart', traces, layout, { displayModeBar: false, staticPlot: true });
</script>
</body>
</html>
